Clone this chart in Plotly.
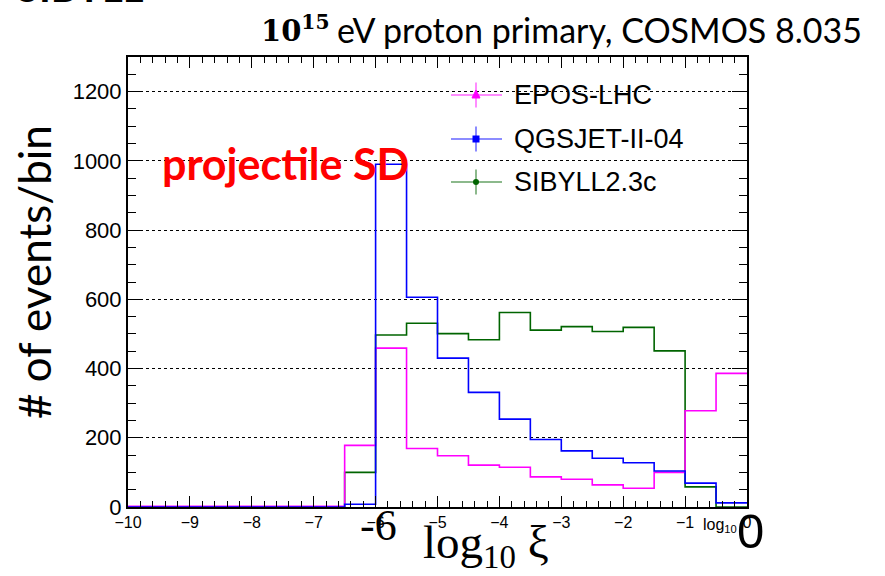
import plotly.graph_objects as go

# ---------------- data ----------------
bin_edges = [-10 + 0.5 * i for i in range(21)]
epos_lhc = [2, 2, 2, 2, 2, 2, 2, 178, 459, 169, 148, 121, 115, 87, 80, 64, 54, 100, 278, 386]
qgsjet = [0, 0, 0, 0, 0, 0, 0, 8, 990, 606, 430, 331, 254, 195, 162, 141, 128, 104, 69, 12]
sibyll = [0, 0, 0, 0, 0, 0, 0, 100, 497, 531, 501, 483, 562, 511, 521, 507, 519, 451, 58, 0]
series_names = ["EPOS-LHC", "QGSJET-II-04", "SIBYLL2.3c"]
x_ticks = [-10, -9, -8, -7, -6, -5, -4, -3, -2, -1, 0]
y_ticks = [0, 200, 400, 600, 800, 1000, 1200]

colors = {"EPOS-LHC": "#ff00ff", "QGSJET-II-04": "#0000ff", "SIBYLL2.3c": "#006400"}
values = {"EPOS-LHC": epos_lhc, "QGSJET-II-04": qgsjet, "SIBYLL2.3c": sibyll}

W, H = 885, 576
ML, MR, MT, MB = 128, 138, 57, 69
PW, PH = W - ML - MR, H - MT - MB


def px(x):
    return (x - ML) / PW


def py(y):
    return (H - MB - y) / PH


fig = go.Figure()

# drawing order: green, magenta, blue
for name in ["SIBYLL2.3c", "EPOS-LHC", "QGSJET-II-04"]:
    v = values[name]
    fig.add_trace(go.Scatter(
        x=bin_edges, y=v + [v[-1]], mode="lines", line_shape="hv",
        line=dict(color=colors[name], width=1.6), showlegend=False, name=name,
        cliponaxis=True,
    ))

shapes = []
annotations = []

# manual legend (ROOT style: line + error bar + marker)
leg_rows = {"EPOS-LHC": 95, "QGSJET-II-04": 139, "SIBYLL2.3c": 182}
for name in series_names:
    yc = leg_rows[name]
    c = colors[name]
    shapes.append(dict(type="line", xref="paper", yref="paper", x0=px(451), x1=px(502),
                       y0=py(yc), y1=py(yc), line=dict(color=c, width=1.5), opacity=0.6))
    shapes.append(dict(type="line", xref="paper", yref="paper", x0=px(476), x1=px(476),
                       y0=py(yc - 12.5), y1=py(yc + 12.5), line=dict(color=c, width=1.5), opacity=0.6))
    if name == "EPOS-LHC":
        path = "M %f %f L %f %f L %f %f Z" % (px(476), py(yc - 5), px(472), py(yc + 3), px(480), py(yc + 3))
        shapes.append(dict(type="path", xref="paper", yref="paper", path=path,
                           fillcolor=c, line=dict(color=c, width=1)))
    elif name == "QGSJET-II-04":
        shapes.append(dict(type="rect", xref="paper", yref="paper", x0=px(472.5), x1=px(479.5),
                           y0=py(yc - 3.5), y1=py(yc + 3.5), fillcolor=c, line=dict(color=c, width=0)))
    else:
        shapes.append(dict(type="circle", xref="paper", yref="paper", x0=px(473), x1=px(479),
                           y0=py(yc - 3), y1=py(yc + 3), fillcolor=c, line=dict(color=c, width=0)))
    annotations.append(dict(text=name, xref="paper", yref="paper", x=px(512), y=py(yc),
                            xanchor="left", yanchor="middle", showarrow=False,
                            font=dict(family="Liberation Sans", size=27, color="black")))

# title
annotations.append(dict(text="<b>10<sup>15</sup></b>", xref="paper", yref="paper",
                        x=px(332), y=py(29), xanchor="right", yanchor="middle", showarrow=False,
                        font=dict(family="DejaVu Serif", size=29, color="black")))
annotations.append(dict(text="eV proton primary, COSMOS 8.035", xref="paper", yref="paper",
                        x=px(864), y=py(30), xanchor="right", yanchor="middle", showarrow=False,
                        font=dict(family="Lato", size=34, color="black")))
# cut-off slide heading
annotations.append(dict(text="<b>SIBYLL</b>", xref="paper", yref="paper",
                        x=px(15), y=py(13), xanchor="left", yanchor="bottom", showarrow=False,
                        font=dict(family="Lato", size=40, color="black")))
# red label
annotations.append(dict(text="<b>projectile SD</b>", xref="paper", yref="paper",
                        x=px(160), y=py(163), xanchor="left", yanchor="middle", showarrow=False,
                        font=dict(family="Lato", size=43, color="red")))
# y axis title
annotations.append(dict(text="# of events/bin", xref="paper", yref="paper",
                        x=px(34), y=py(272), xanchor="center", yanchor="middle", showarrow=False,
                        textangle=-90, font=dict(family="Lato", size=44, color="black")))
# x axis labels
annotations.append(dict(text="-6", xref="paper", yref="paper",
                        x=px(378), y=py(525), xanchor="center", yanchor="middle", showarrow=False,
                        font=dict(family="Liberation Serif", size=44, color="black")))
annotations.append(dict(text="log<sub>10</sub> ξ", xref="paper", yref="paper",
                        x=px(421), y=py(545), xanchor="left", yanchor="middle", showarrow=False,
                        font=dict(family="Liberation Serif", size=47, color="black")))
annotations.append(dict(text="log<sub>10</sub>", xref="paper", yref="paper",
                        x=px(701), y=py(525), xanchor="left", yanchor="middle", showarrow=False,
                        font=dict(family="Liberation Sans", size=16, color="black")))
annotations.append(dict(text="0", xref="paper", yref="paper",
                        x=px(750), y=py(531), xanchor="center", yanchor="middle", showarrow=False,
                        font=dict(family="Liberation Sans", size=49, color="black")))

fig.update_layout(
    width=W, height=H,
    margin=dict(l=ML, r=MR, t=MT, b=MB),
    paper_bgcolor="white", plot_bgcolor="white",
    showlegend=False,
    shapes=shapes, annotations=annotations,
    xaxis=dict(range=[-10, 0], tickvals=x_ticks, ticktext=["−" + str(abs(t)) if t < 0 else str(t) for t in x_ticks],
               ticks="inside", ticklen=11, tickwidth=1, tickcolor="black",
               minor=dict(dtick=0.2, tick0=-10, ticks="inside", ticklen=6, tickcolor="black", tickwidth=1),
               showline=True, linecolor="black", linewidth=2, mirror="allticks",
               showgrid=False, zeroline=False,
               tickfont=dict(family="Liberation Sans", size=16, color="black")),
    yaxis=dict(range=[0, 1300], tickvals=y_ticks,
               ticks="inside", ticklen=15, tickwidth=1, tickcolor="black",
               minor=dict(dtick=50, tick0=0, ticks="inside", ticklen=8, tickcolor="black", tickwidth=1),
               showline=True, linecolor="black", linewidth=2, mirror="allticks",
               showgrid=True, gridcolor="black", griddash="dot", gridwidth=1, zeroline=False,
               tickfont=dict(family="Liberation Sans", size=22, color="black")),
)

fig.write_html("out.html")
